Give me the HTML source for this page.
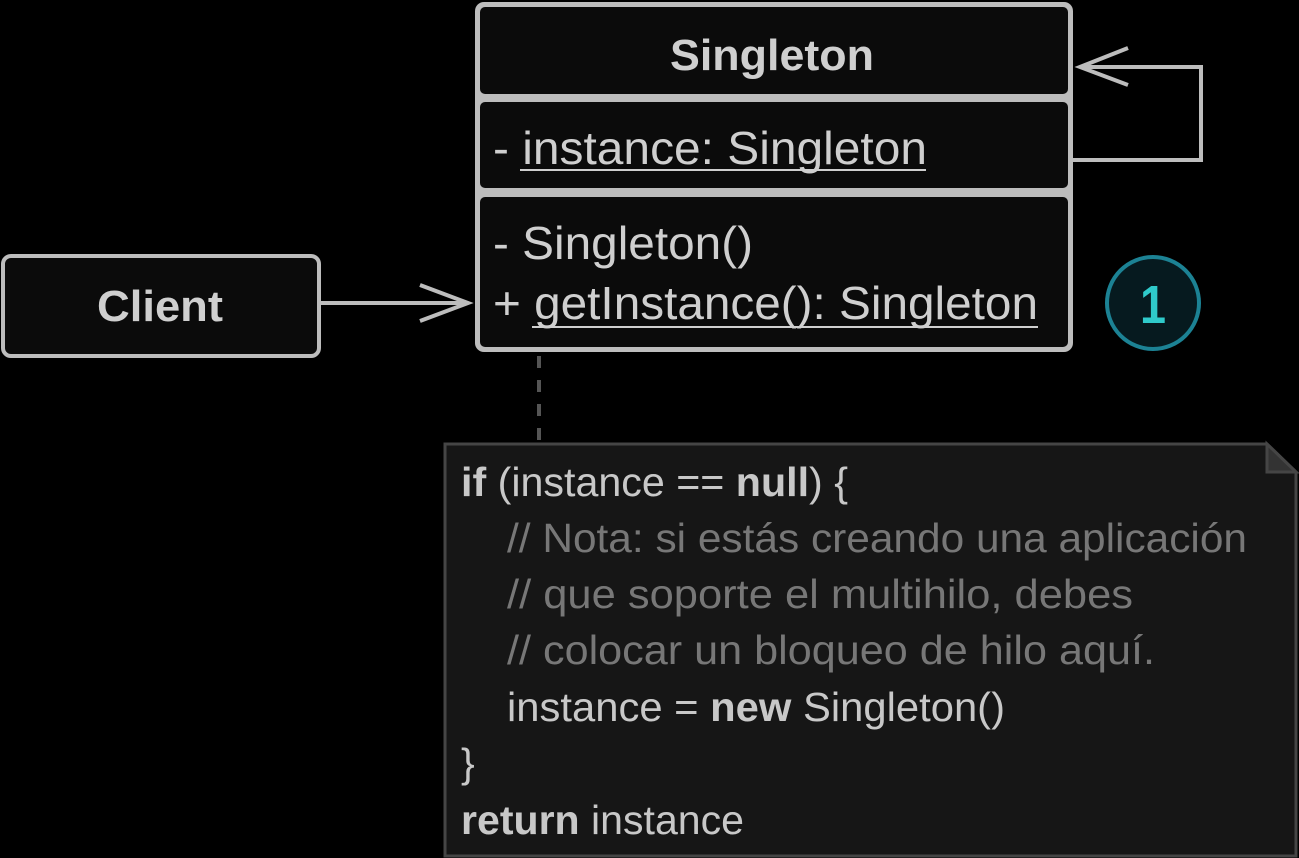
<!DOCTYPE html>
<html><head><style>html,body{margin:0;padding:0;background:#000;}svg{display:block}</style></head>
<body>
<svg width="1299" height="858" viewBox="0 0 1299 858" xmlns="http://www.w3.org/2000/svg" font-family="'Liberation Sans Narrow','Liberation Sans',sans-serif">
<rect width="1299" height="858" fill="#000"/>
<rect x="475" y="2" width="598" height="350" rx="9" fill="#bdbdbd"/>
<rect x="480" y="7" width="588" height="87" rx="5" fill="#0b0b0b"/>
<rect x="480" y="102" width="588" height="86" rx="5" fill="#0b0b0b"/>
<rect x="480" y="197" width="588" height="150" rx="5" fill="#0b0b0b"/>
<text x="772" y="70" text-anchor="middle" font-size="44" font-weight="bold" fill="#cfcfcf" textLength="204" lengthAdjust="spacingAndGlyphs">Singleton</text>
<text x="493" y="164" font-size="46" fill="#cfcfcf" textLength="434" lengthAdjust="spacingAndGlyphs">- instance: Singleton</text>
<line x1="520" y1="170" x2="926" y2="170" stroke="#cfcfcf" stroke-width="2"/>
<text x="493" y="259" font-size="46" fill="#cfcfcf" textLength="260" lengthAdjust="spacingAndGlyphs">- Singleton()</text>
<text x="493" y="319" font-size="46" fill="#cfcfcf" textLength="545" lengthAdjust="spacingAndGlyphs">+ getInstance(): Singleton</text>
<line x1="532" y1="327" x2="1038" y2="327" stroke="#cfcfcf" stroke-width="2"/>
<polyline points="1071,160 1201,160 1201,67 1080,67" fill="none" stroke="#bdbdbd" stroke-width="4"/>
<polyline points="1128,48 1080,67 1128,85" fill="none" stroke="#bdbdbd" stroke-width="4"/>
<rect x="3" y="256" width="316" height="100" rx="8" fill="#0b0b0b" stroke="#bdbdbd" stroke-width="4"/>
<text x="160" y="321" text-anchor="middle" font-size="44" font-weight="bold" fill="#cfcfcf" textLength="126" lengthAdjust="spacingAndGlyphs">Client</text>
<line x1="320" y1="303" x2="468" y2="303" stroke="#bdbdbd" stroke-width="4"/>
<polyline points="420,285 468,303 420,321" fill="none" stroke="#bdbdbd" stroke-width="4"/>
<circle cx="1153" cy="303" r="46" fill="#061a1f" stroke="#1c8294" stroke-width="4"/>
<text x="1153" y="323" text-anchor="middle" font-size="54" font-weight="bold" fill="#2fcaca" textLength="26" lengthAdjust="spacingAndGlyphs">1</text>
<line x1="539" y1="356" x2="539" y2="442" stroke="#555" stroke-width="4" stroke-dasharray="12,12"/>
<path d="M445,444 L1267,444 L1296,472 L1296,856 L445,856 Z" fill="#161616" stroke="#454545" stroke-width="3"/>
<path d="M1267,444 L1267,472 L1296,472 Z" fill="#333" stroke="#454545" stroke-width="3"/>
<g font-size="41">
<text x="461" y="496" fill="#c8c8c8" textLength="387" lengthAdjust="spacingAndGlyphs"><tspan font-weight="bold">if</tspan> (instance == <tspan font-weight="bold">null</tspan>) {</text>
<text x="507" y="552" fill="#777" textLength="740" lengthAdjust="spacingAndGlyphs">// Nota: si estás creando una aplicación</text>
<text x="507" y="608" fill="#777" textLength="626" lengthAdjust="spacingAndGlyphs">// que soporte el multihilo, debes</text>
<text x="507" y="664" fill="#777" textLength="648" lengthAdjust="spacingAndGlyphs">// colocar un bloqueo de hilo aquí.</text>
<text x="507" y="721" fill="#c8c8c8" textLength="498" lengthAdjust="spacingAndGlyphs">instance = <tspan font-weight="bold">new</tspan> Singleton()</text>
<text x="461" y="777" fill="#c8c8c8">}</text>
<text x="461" y="834" fill="#c8c8c8" textLength="283" lengthAdjust="spacingAndGlyphs"><tspan font-weight="bold">return</tspan> instance</text>
</g>
</svg>
</body></html>
